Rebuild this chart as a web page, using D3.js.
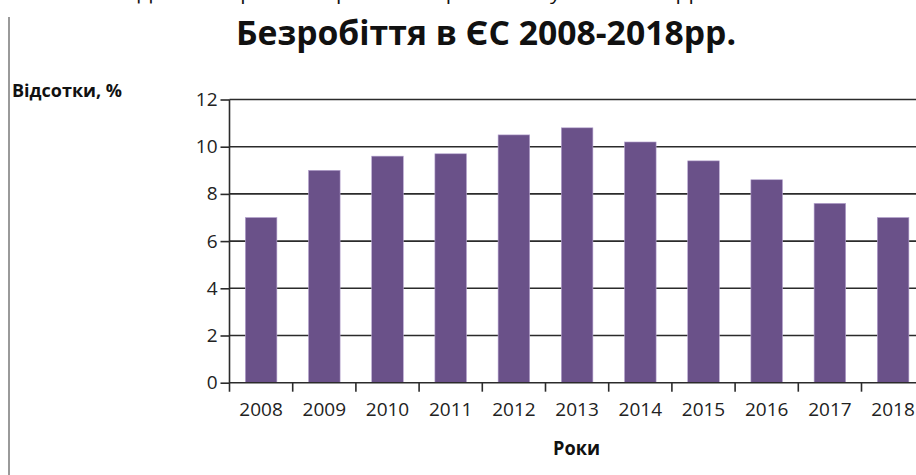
<!DOCTYPE html>
<html>
<head>
<meta charset="utf-8">
<script src="https://cdn.jsdelivr.net/npm/d3@7/dist/d3.min.js"></script>
<style>
  html, body { margin: 0; padding: 0; background: #fff; }
  svg { display: block; font-family: "Open Sans", "DejaVu Sans", sans-serif; }
</style>
</head>
<body>
<svg id="chart" width="916" height="475"></svg>
<script>
// Unemployment rate in the EU, % of labour force
const years = ["2008", "2009", "2010", "2011", "2012", "2013", "2014", "2015", "2016", "2017", "2018"];
const rates = [7.0, 9.0, 9.6, 9.7, 10.5, 10.8, 10.2, 9.4, 8.6, 7.6, 7.0];
const yTicks = [0, 2, 4, 6, 8, 10, 12];

const titleText = "Безробіття в ЄС 2008-2018рр.";
const yLabelText = "Відсотки, %";
const xLabelText = "Роки";
const captionText = "Рис. 2.1 Динаміка рівня безробіття в країнах ЄС у 2008-2018 рр.";

const svg = d3.select("#chart");

const x = d3.scaleBand()
  .domain(years)
  .range([229.5, 924.7])
  .paddingInner(0.5)
  .paddingOuter(0.25);

const y = d3.scaleLinear()
  .domain([0, 12])
  .range([382.7, 99.5]);

const plotRight = 916;
const ink = "#2b2b2b";

// page margin rule on the left
svg.append("line")
  .attr("x1", 9).attr("x2", 9)
  .attr("y1", 17).attr("y2", 475)
  .attr("stroke", "#9a9a9a").attr("stroke-width", 2);

// caption line of the page above (only its lower edge falls inside)
svg.append("text")
  .attr("x", 55).attr("y", 0)
  .attr("font-size", 18)
  .attr("textLength", 652).attr("lengthAdjust", "spacingAndGlyphs")
  .attr("fill", "#111")
  .text(captionText);

// horizontal gridlines
svg.append("g")
  .selectAll("line")
  .data(yTicks.filter(d => d > 0))
  .join("line")
  .attr("x1", x.range()[0]).attr("x2", plotRight)
  .attr("y1", d => y(d)).attr("y2", d => y(d))
  .attr("stroke", ink).attr("stroke-width", 1.6);

// bars
svg.append("g")
  .selectAll("rect")
  .data(years.map((yr, i) => ({ yr, v: rates[i] })))
  .join("rect")
  .attr("x", d => x(d.yr))
  .attr("width", x.bandwidth())
  .attr("y", d => y(d.v))
  .attr("height", d => y(0) - y(d.v))
  .attr("fill", "#6a5189")
  .attr("stroke", "#b7a6d0").attr("stroke-width", 0.6);

// y axis
const yAxis = d3.axisLeft(y)
  .tickValues(yTicks)
  .tickSize(9)
  .tickPadding(3)
  .tickFormat(d3.format("d"));
const gy = svg.append("g")
  .attr("transform", `translate(${x.range()[0]},0)`)
  .call(yAxis);
gy.select(".domain").remove();
gy.selectAll(".tick line").attr("stroke", ink).attr("stroke-width", 1.6);
gy.selectAll(".tick text")
  .attr("font-size", 19)
  .attr("fill", "#222")
  .attr("font-family", "'Open Sans', sans-serif");
gy.append("line")
  .attr("x1", 0).attr("x2", 0)
  .attr("y1", y(12)).attr("y2", y(0) + 9)
  .attr("stroke", ink).attr("stroke-width", 1.6);

// x axis line with ticks at category boundaries
const gap = (x.step() - x.bandwidth()) / 2;
const boundaries = years.map(yr => x(yr) - gap);
svg.append("line")
  .attr("x1", x.range()[0]).attr("x2", plotRight)
  .attr("y1", y(0)).attr("y2", y(0))
  .attr("stroke", ink).attr("stroke-width", 1.6);
svg.append("g")
  .selectAll("line")
  .data(boundaries.slice(1))
  .join("line")
  .attr("x1", d => d).attr("x2", d => d)
  .attr("y1", y(0)).attr("y2", y(0) + 9)
  .attr("stroke", ink).attr("stroke-width", 1.6);

// category labels
svg.append("g")
  .selectAll("text")
  .data(years)
  .join("text")
  .attr("x", d => x(d) + x.bandwidth() / 2)
  .attr("y", 416)
  .attr("text-anchor", "middle")
  .attr("font-size", 19)
  .attr("fill", "#222")
  .text(d => d);

// titles
svg.append("text")
  .attr("x", 236).attr("y", 45)
  .attr("font-size", 34).attr("font-weight", "bold")
  .attr("textLength", 500).attr("lengthAdjust", "spacingAndGlyphs")
  .attr("fill", "#111")
  .text(titleText);

svg.append("text")
  .attr("x", 12).attr("y", 97)
  .attr("font-size", 17).attr("font-weight", "bold")
  .attr("textLength", 110).attr("lengthAdjust", "spacingAndGlyphs")
  .attr("fill", "#111")
  .text(yLabelText);

svg.append("text")
  .attr("x", 553).attr("y", 455)
  .attr("font-size", 19).attr("font-weight", "bold")
  .attr("textLength", 47).attr("lengthAdjust", "spacingAndGlyphs")
  .attr("fill", "#111")
  .text(xLabelText);
</script>
</body>
</html>
